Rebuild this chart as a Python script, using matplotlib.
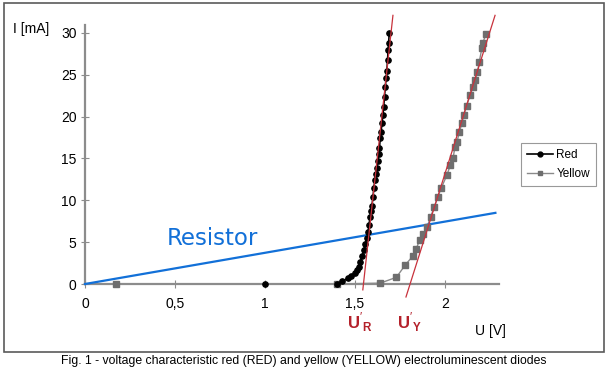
import numpy as np
import matplotlib
matplotlib.use("Agg")
import matplotlib.pyplot as plt
from matplotlib.patches import Rectangle
from matplotlib.lines import Line2D

plt.rcParams['font.family'] = ['Liberation Sans', 'DejaVu Sans']
plt.rcParams['mathtext.fontset'] = 'custom'
plt.rcParams['mathtext.rm'] = 'Liberation Sans'
plt.rcParams['mathtext.bf'] = 'Liberation Sans:bold'

# measured points, red LED (U [V], I [mA])
red_u = [1.00, 1.40, 1.43, 1.46, 1.48, 1.50, 1.51, 1.52, 1.53, 1.54, 1.55, 1.556,
         1.565, 1.572, 1.578, 1.583, 1.589, 1.594, 1.600, 1.605, 1.610, 1.615,
         1.620, 1.626, 1.631, 1.636, 1.640, 1.645, 1.650, 1.655, 1.659, 1.664,
         1.668, 1.673, 1.677, 1.681, 1.684, 1.687, 1.690]
red_i = [0.0, 0.0, 0.3, 0.7, 1.0, 1.3, 1.7, 2.0, 2.6, 3.4, 4.1, 4.8,
         5.5, 6.2, 7.0, 8.0, 8.7, 9.3, 10.4, 11.5, 12.4, 13.1,
         13.9, 14.7, 15.5, 16.2, 17.4, 18.2, 19.2, 20.2, 21.1, 22.4,
         23.5, 24.6, 25.5, 26.8, 28.0, 28.8, 30.0]

# measured points, yellow LED
yel_u = [0.17, 1.40, 1.64, 1.73, 1.78, 1.82, 1.84, 1.86, 1.88, 1.90, 1.92, 1.94,
         1.96, 1.98, 2.01, 2.03, 2.045, 2.055, 2.067, 2.08, 2.094, 2.105, 2.12,
         2.14, 2.155, 2.167, 2.18, 2.19, 2.205, 2.21, 2.228]
yel_i = [0.0, 0.0, 0.1, 0.8, 2.3, 3.3, 4.2, 5.3, 6.0, 6.8, 8.0, 9.2,
         10.4, 11.5, 13.0, 14.2, 15.0, 16.4, 17.0, 18.2, 19.2, 20.2, 21.3,
         22.6, 23.5, 24.4, 25.3, 26.5, 28.2, 28.8, 29.9]

# tangents: knee voltage U' [V] and slope [mA/V]
red_knee, red_slope = 1.547, 196.0
yel_knee, yel_slope = 1.806, 68.0
red_tan_i = [-0.7, 32.1]
yel_tan_i = [-1.55, 32.1]

# resistor load line
res_u = [0.0, 2.28]
res_i = [0.0, 8.5]

x_ticks = [0, 0.5, 1, 1.5, 2]
x_tick_labels = ['0', '0,5', '1', '1,5', '2']
y_ticks = [0, 5, 10, 15, 20, 25, 30]

W, H = 606, 374
fig = plt.figure(figsize=(W / 100, H / 100), dpi=100)
ax = fig.add_axes([85 / W, 90 / H, 414 / W, 258.6 / H])
ax.set_xlim(0, 2.3)
ax.set_ylim(0, 30.9)

axis_grey = '#8c8c8c'
for s in ['top', 'right']:
    ax.spines[s].set_visible(False)
for s in ['left', 'bottom']:
    ax.spines[s].set_color(axis_grey)
    ax.spines[s].set_linewidth(1.6)
    ax.spines[s].set_zorder(2.5)
ax.tick_params(direction='inout', length=6, width=0.8, color=axis_grey,
               labelsize=10)
ax.tick_params(axis='x', pad=6)
ax.tick_params(axis='y', pad=3)
ax.set_xticks(x_ticks)
ax.set_xticklabels(x_tick_labels)
ax.set_yticks(y_ticks)

# data: lines under the axis, markers on top
yel_line_c, yel_mark_c = '#8a8a8a', '#6e6e6e'
ax.plot(yel_u, yel_i, color=yel_line_c, lw=1.0, zorder=2, clip_on=False)
ax.plot(yel_u, yel_i, ls='none', marker='s', ms=4, mfc=yel_mark_c,
        mec=yel_mark_c, zorder=4, clip_on=False)
ax.plot(red_u, red_i, color='black', lw=1.2, zorder=2.2, clip_on=False)
ax.plot(red_u, red_i, ls='none', marker='o', ms=3.8, mfc='black',
        mec='black', zorder=4.5, clip_on=False)

# tangents
tan_col = '#c8323c'
r_i = np.array(red_tan_i)
ax.plot(red_knee + r_i / red_slope, r_i, color=tan_col, lw=0.9, zorder=5, clip_on=False)
y_i = np.array(yel_tan_i)
ax.plot(yel_knee + y_i / yel_slope, y_i, color=tan_col, lw=0.9, zorder=5, clip_on=False)

# resistor line
blue = '#1270d8'
ax.plot(res_u, res_i, color=blue, lw=1.6, zorder=3, clip_on=False)
ax.text(0.456, 5.4, 'Resistor', color=blue, fontsize=16.5, family='DejaVu Sans',
        va='center', ha='left')

# axis labels
fig.text(13 / W, 1 - 29 / H, 'I [mA]', fontsize=10, va='center', ha='left')
fig.text(475 / W, 1 - 331 / H, 'U [V]', fontsize=10, va='center', ha='left')

# U' labels
lab_col = '#b4202a'
fig.text(347 / W, 1 - 322 / H, r"$\mathbf{U}'_{\mathbf{R}}$", fontsize=12,
         color=lab_col, va='center', ha='left')
fig.text(397 / W, 1 - 322 / H, r"$\mathbf{U}'_{\mathbf{Y}}$", fontsize=12,
         color=lab_col, va='center', ha='left')

# legend
handles = [Line2D([], [], color='black', lw=1.2, marker='o', ms=3.5),
           Line2D([], [], color=yel_line_c, lw=1.0, marker='s', ms=3.5,
                  mfc=yel_mark_c, mec=yel_mark_c)]
leg = fig.legend(handles, ['Red', 'Yellow'], loc='upper left',
                 bbox_to_anchor=(521 / W, 1 - 143 / H), fontsize=8.5,
                 frameon=True, fancybox=False, handlelength=2.2,
                 handletextpad=0.3, borderpad=0.5, labelspacing=0.6,
                 borderaxespad=0)
leg.get_frame().set_edgecolor('#808080')
leg.get_frame().set_linewidth(0.8)

# outer frame
fig.patches.append(Rectangle((4 / W, 1 - 352 / H), 600 / W, 349 / H,
                             transform=fig.transFigure, fill=False,
                             edgecolor='#5a5a5a', lw=1.2))

fig.text(304 / W, 1 - 361 / H,
         'Fig. 1 - voltage characteristic red (RED) and yellow (YELLOW) electroluminescent diodes',
         fontsize=8.8, ha='center', va='center')

fig.savefig('out.png', dpi=100)
